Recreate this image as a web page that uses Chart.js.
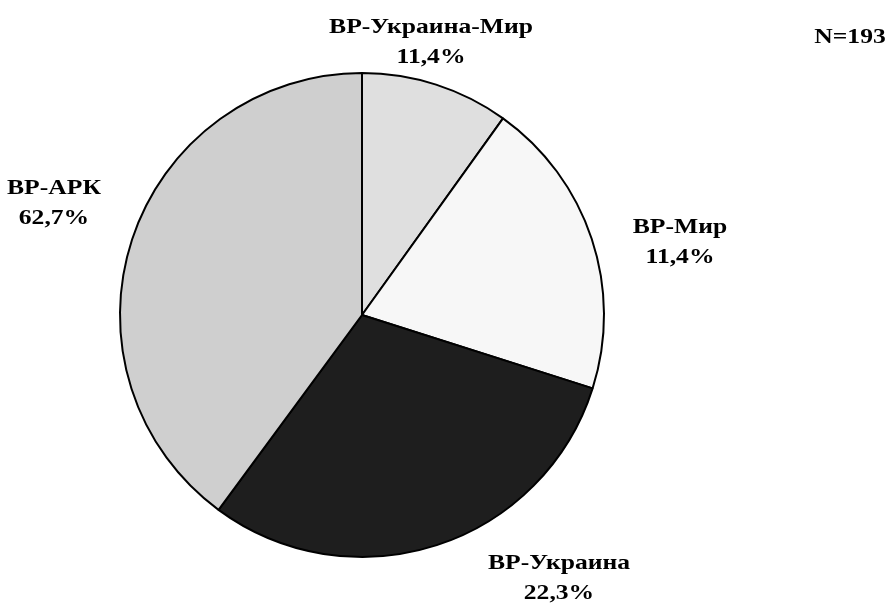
<!DOCTYPE html>
<html>
<head>
<meta charset="utf-8">
<script src="https://cdn.jsdelivr.net/npm/chart.js@4"></script>
<style>
  html, body { margin: 0; padding: 0; background: #fff; }
  canvas { display: block; }
</style>
</head>
<body>
<canvas id="pie" width="889" height="605"></canvas>
<script>
// slices, clockwise from 12 o'clock (sizes as drawn in the picture)
const categories = ['ВР-Украина-Мир', 'ВР-Мир', 'ВР-Украина', 'ВР-АРК'];
const shares = [9.9, 20.0, 30.2, 39.9];
// percentages as printed on the chart
const printedPct = ['11,4%', '11,4%', '22,3%', '62,7%'];
const sampleNote = 'N=193';

const sliceColors = ['#dfdfdf', '#f7f7f7', '#1e1e1e', '#cfcfcf'];

// text label anchors (centre of the two-line block)
const labelPos = [
  { x: 431, y: 28 },
  { x: 680, y: 228 },
  { x: 559, y: 564 },
  { x: 54, y: 189 }
];

// scanned serif is wider than Liberation Serif, stretch a bit
function wideText(ctx, txt, x, y) {
  ctx.save();
  ctx.translate(x, y);
  ctx.scale(1.22, 1);
  ctx.fillText(txt, 0, 0);
  ctx.restore();
}

const labelPlugin = {
  id: 'sliceLabels',
  afterDraw(chart) {
    const ctx = chart.ctx;
    ctx.save();
    ctx.fillStyle = '#000';
    ctx.font = 'bold 21px "Liberation Serif", "DejaVu Serif", serif';
    ctx.textAlign = 'center';
    ctx.textBaseline = 'middle';
    categories.forEach((c, i) => {
      const p = labelPos[i];
      wideText(ctx, c, p.x, p.y);
      wideText(ctx, printedPct[i], p.x, p.y + 30);
    });
    wideText(ctx, sampleNote, 850, 38);
    ctx.restore();
  }
};

const ctx = document.getElementById('pie').getContext('2d');
new Chart(ctx, {
  type: 'pie',
  data: {
    labels: categories,
    datasets: [{
      data: shares,
      backgroundColor: sliceColors,
      borderColor: '#000',
      borderWidth: 2
    }]
  },
  options: {
    responsive: false,
    animation: false,
    radius: 242,
    layout: { padding: { left: 112, right: 277, top: 65, bottom: 40 } },
    plugins: {
      legend: { display: false },
      tooltip: { enabled: false }
    }
  },
  plugins: [labelPlugin]
});
</script>
</body>
</html>
